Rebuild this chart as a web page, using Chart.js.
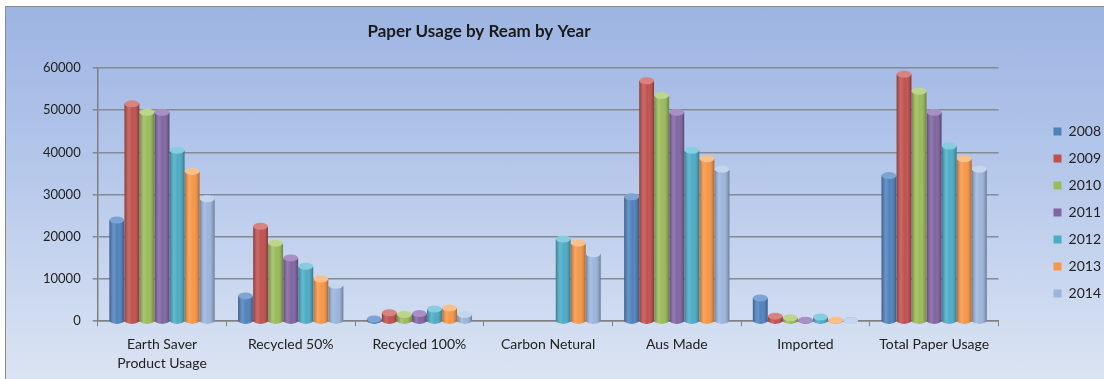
<!DOCTYPE html>
<html>
<head>
<meta charset="utf-8">
<title>Paper Usage by Ream by Year</title>
<script src="https://cdn.jsdelivr.net/npm/chart.js@4.4.1/dist/chart.umd.min.js"></script>
<style>
  body {
    margin: 0;
    background: #ffffff;
    width: 1104px;
    height: 379px;
    overflow: hidden;
  }
  .panel {
    position: absolute;
    left: 5px;
    top: 6px;
    width: 1099px;
    height: 373px;
    border-left: 1px solid #8c8c8c;
    border-top: 1px solid #8c8c8c;
    background: linear-gradient(to bottom, #9db4e2 0%, #b3c6ea 40%, #dbe4f3 100%);
  }
  canvas {
    display: block;
  }
</style>
</head>
<body>
<div class="panel">
  <canvas id="chart" width="1098" height="372"></canvas>
</div>
<script>
// Data
const categories = [
  ["Earth Saver", "Product Usage"],
  "Recycled 50%",
  "Recycled 100%",
  "Carbon Netural",
  "Aus Made",
  "Imported",
  "Total Paper Usage",
];

const years = ["2008", "2009", "2010", "2011", "2012", "2013", "2014"];

const y2008 = [24000, 6000, 500, null, 29500, 5500, 34500];
const y2009 = [51500, 22500, 2000, null, 57000, 1200, 58500];
const y2010 = [49500, 18500, 1600, null, 53500, 800, 54500];
const y2011 = [49500, 15000, 1800, null, 49500, 200, 49500];
const y2012 = [40500, 13000, 2900, 19500, 40500, 1000, 41500];
const y2013 = [35500, 10000, 3100, 18500, 38500, 200, 38500];
const y2014 = [29000, 8500, 1600, 16000, 36000, 100, 36000];

const yTicks = [0, 10000, 20000, 30000, 40000, 50000, 60000];

const colors = ["#4f81bd", "#c0504d", "#9bbb59", "#8064a2", "#4bacc6", "#f79646", "#9bb5dc"];
const tops = ["#7ea4d6", "#d9837f", "#bcd58a", "#a890c4", "#86cde0", "#fbbf8a", "#c4d5ee"];

const seriesData = [y2008, y2009, y2010, y2011, y2012, y2013, y2014];

const datasets = years.map((year, i) => ({
  label: year,
  data: seriesData[i],
  backgroundColor: colors[i],
  borderWidth: 0,
  categoryPercentage: 0.82,
  barPercentage: 0.98,
}));

// Cylinder look on top of each bar
const cylinders = {
  id: "cylinders",
  afterDatasetsDraw(chart) {
    const ctx = chart.ctx;
    chart.data.datasets.forEach((ds, i) => {
      const meta = chart.getDatasetMeta(i);
      meta.data.forEach((bar, j) => {
        if (ds.data[j] === null) return;
        const w = bar.width;
        const left = bar.x - w / 2;
        const r = Math.min(3.5, w / 4);
        ctx.save();
        // bottom rounding
        ctx.fillStyle = colors[i];
        ctx.beginPath();
        ctx.ellipse(bar.x, bar.base, w / 2, r, 0, 0, Math.PI * 2);
        ctx.fill();
        // shading
        const g = ctx.createLinearGradient(left, 0, left + w, 0);
        g.addColorStop(0, "rgba(0,0,0,0.28)");
        g.addColorStop(0.3, "rgba(255,255,255,0.15)");
        g.addColorStop(0.55, "rgba(255,255,255,0)");
        g.addColorStop(1, "rgba(0,0,0,0.32)");
        ctx.fillStyle = g;
        ctx.beginPath();
        ctx.rect(left, bar.y, w, bar.base - bar.y);
        ctx.ellipse(bar.x, bar.base, w / 2, r, 0, 0, Math.PI);
        ctx.fill();
        // top cap
        ctx.fillStyle = tops[i];
        ctx.beginPath();
        ctx.ellipse(bar.x, bar.y, w / 2, r, 0, 0, Math.PI * 2);
        ctx.fill();
        ctx.restore();
      });
    });
  },
};

const chartTitle = {
  id: "chartTitle",
  afterDraw(chart) {
    const ctx = chart.ctx;
    ctx.save();
    ctx.font = "bold 17px Lato";
    ctx.fillStyle = "#1a1a1a";
    ctx.textAlign = "center";
    ctx.textBaseline = "middle";
    ctx.fillText("Paper Usage by Ream by Year", 473, 25);
    ctx.restore();
  },
};

const chart = document.querySelector("#chart").getContext("2d");

new Chart(chart, {
  type: "bar",
  data: {
    labels: categories,
    datasets: datasets,
  },
  options: {
    responsive: false,
    animation: false,
    layout: {
      padding: { top: 61, left: 25, right: -7, bottom: -3 },
    },
    plugins: {
      title: { display: false },
      tooltip: { enabled: false },
      legend: {
        position: "right",
        align: "start",
        // empty legend title only pushes the items down
        title: {
          display: true,
          text: "",
          font: { size: 12 },
          padding: { top: 15, bottom: 14 },
        },
        labels: {
          boxWidth: 8,
          boxHeight: 8,
          padding: 13,
          color: "#222",
          font: { family: "Lato", size: 14 },
        },
      },
    },
    scales: {
      x: {
        grid: {
          offset: true,
          drawOnChartArea: false,
          color: "#808080",
          tickLength: 5,
        },
        border: { color: "#808080", width: 1.5 },
        ticks: {
          color: "#222",
          padding: 9,
          font: { family: "Lato", size: 14, lineHeight: 1.35 },
          maxRotation: 0,
          autoSkip: false,
        },
      },
      y: {
        min: 0,
        max: 60000,
        afterBuildTicks(axis) {
          axis.ticks = yTicks.map((v) => ({ value: v }));
        },
        grid: {
          color: "#858a94",
          lineWidth: 1.6,
          tickLength: 5,
        },
        border: { color: "#808080", width: 1.5 },
        ticks: {
          color: "#222",
          padding: 12,
          font: { family: "Lato", size: 13 },
          callback: (v) => String(v),
        },
      },
      // empty right axis, keeps the gap before the legend
      yGap: {
        position: "right",
        display: true,
        grid: { display: false },
        border: { display: false },
        ticks: { display: false },
        afterFit(axis) {
          axis.width = 42;
        },
      },
    },
  },
  plugins: [cylinders, chartTitle],
});
</script>
</body>
</html>
